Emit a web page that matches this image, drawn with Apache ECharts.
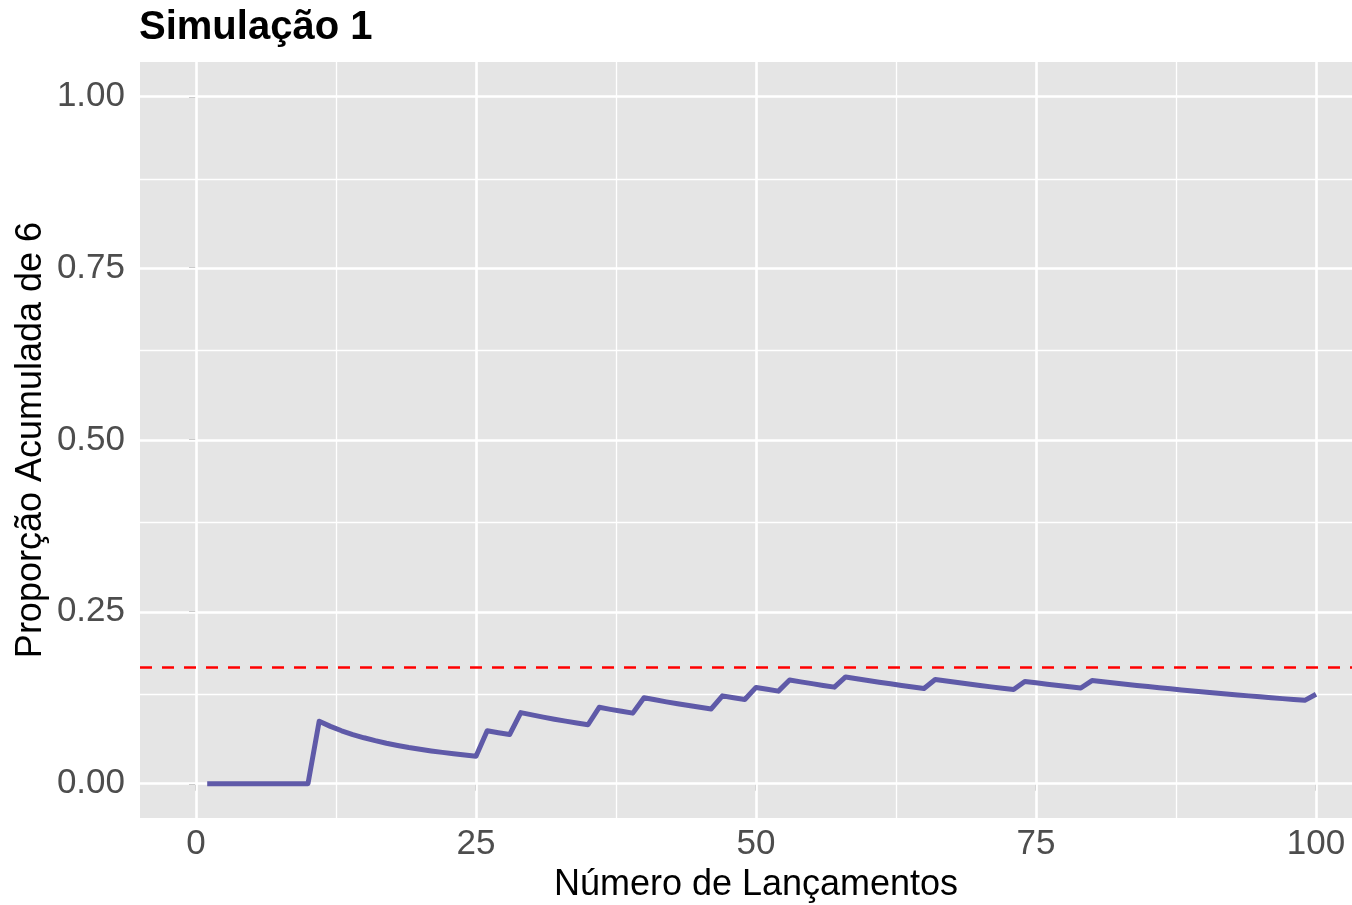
<!DOCTYPE html>
<html>
<head>
<meta charset="utf-8">
<script src="https://cdn.jsdelivr.net/npm/echarts@6/dist/echarts.min.js"></script>
<style>
html,body{margin:0;padding:0;background:#fff;}
#chart{width:1352px;height:905px;}
</style>
</head>
<body>
<div id="chart"></div>
<script>
// Number of roll (x) and cumulative proportion of sixes (y)
const rolls = Array.from({length: 100}, (_, i) => i + 1);
const proportion = [
  0, 0, 0, 0, 0, 0, 0, 0, 0, 0,
  0.0909, 0.0833, 0.0769, 0.0714, 0.0667, 0.0625, 0.0588, 0.0556, 0.0526, 0.0500,
  0.0476, 0.0455, 0.0435, 0.0417, 0.0400, 0.0769, 0.0741, 0.0714, 0.1034, 0.1000,
  0.0968, 0.0938, 0.0909, 0.0882, 0.0857, 0.1111, 0.1081, 0.1053, 0.1026, 0.1250,
  0.1220, 0.1190, 0.1163, 0.1136, 0.1111, 0.1087, 0.1277, 0.1250, 0.1224, 0.1400,
  0.1373, 0.1346, 0.1509, 0.1481, 0.1455, 0.1429, 0.1404, 0.1552, 0.1525, 0.1500,
  0.1475, 0.1452, 0.1429, 0.1406, 0.1385, 0.1515, 0.1493, 0.1471, 0.1449, 0.1429,
  0.1408, 0.1389, 0.1370, 0.1486, 0.1467, 0.1447, 0.1429, 0.1410, 0.1392, 0.1500,
  0.1481, 0.1463, 0.1446, 0.1429, 0.1412, 0.1395, 0.1379, 0.1364, 0.1348, 0.1333,
  0.1319, 0.1304, 0.1290, 0.1277, 0.1263, 0.1250, 0.1237, 0.1224, 0.1212, 0.1300
];
const expectedValue = 0.1667;
const xTicks = [0, 25, 50, 75, 100];
const xMinorTicks = [12.5, 37.5, 62.5, 87.5];
const yTicks = [0, 0.25, 0.5, 0.75, 1];
const yMinorTicks = [0.125, 0.375, 0.625, 0.875];

const seriesData = rolls.map((r, i) => [r, proportion[i]]);

const gridLines = [];
xMinorTicks.forEach(v => gridLines.push({xAxis: v, lineStyle: {color: '#fff', width: 1.3, type: 'solid'}}));
yMinorTicks.forEach(v => gridLines.push({yAxis: v, lineStyle: {color: '#fff', width: 1.3, type: 'solid'}}));
xTicks.forEach(v => gridLines.push({xAxis: v, lineStyle: {color: '#fff', width: 2.6, type: 'solid'}}));
yTicks.forEach(v => gridLines.push({yAxis: v, lineStyle: {color: '#fff', width: 2.6, type: 'solid'}}));

const chart = echarts.init(document.getElementById('chart'), null, {renderer: 'canvas'});
chart.setOption({
  animation: false,
  backgroundColor: '#ffffff',
  title: {
    text: 'Simulação 1',
    left: 134, top: 3,
    textStyle: {fontFamily: 'Liberation Sans', fontWeight: 'bold', fontSize: 40, color: '#000'}
  },
  grid: {
    left: 140, right: -20, top: 62, bottom: 87,
    outerBoundsMode: 'none', containLabel: false,
    show: true, backgroundColor: '#E5E5E5', borderWidth: 0
  },
  xAxis: {
    type: 'value', min: -5, max: 105,
    name: 'Número de Lançamentos', nameLocation: 'middle', nameGap: 44,
    nameTextStyle: {fontFamily: 'Liberation Sans', fontSize: 36, color: '#000'},
    axisLine: {show: false},
    axisTick: {show: true, customValues: xTicks, length: 7, lineStyle: {color: '#333', width: 2}},
    axisLabel: {customValues: xTicks, margin: 9, fontFamily: 'Liberation Sans', fontSize: 35, color: '#4D4D4D'},
    splitLine: {show: false}
  },
  yAxis: {
    type: 'value', min: -0.05, max: 1.05,
    name: 'Proporção Acumulada de 6', nameLocation: 'middle', nameGap: 91, nameMoveOverlap: false,
    nameTextStyle: {fontFamily: 'Liberation Sans', fontSize: 36, color: '#000'},
    axisLine: {show: false},
    axisTick: {show: true, customValues: yTicks, length: 7, lineStyle: {color: '#333', width: 2}},
    axisLabel: {customValues: yTicks, margin: 15, fontFamily: 'Liberation Sans', fontSize: 35, color: '#4D4D4D',
      formatter: v => v.toFixed(2)},
    splitLine: {show: false}
  },
  series: [
    {
      type: 'line', data: [], z: 1, silent: true,
      markLine: {silent: true, z: 1, symbol: 'none', label: {show: false}, animation: false, data: gridLines}
    },
    {
      type: 'line', data: seriesData, z: 3, showSymbol: false, symbol: 'none',
      lineStyle: {color: '#5F5AA8', width: 5, join: 'round'},
      markLine: {
        silent: true, z: 5, symbol: 'none', label: {show: false},
        data: [{yAxis: expectedValue}],
        lineStyle: {color: '#FF0000', width: 2.5, type: [12, 10]}
      }
    }
  ]
});
</script>
</body>
</html>
